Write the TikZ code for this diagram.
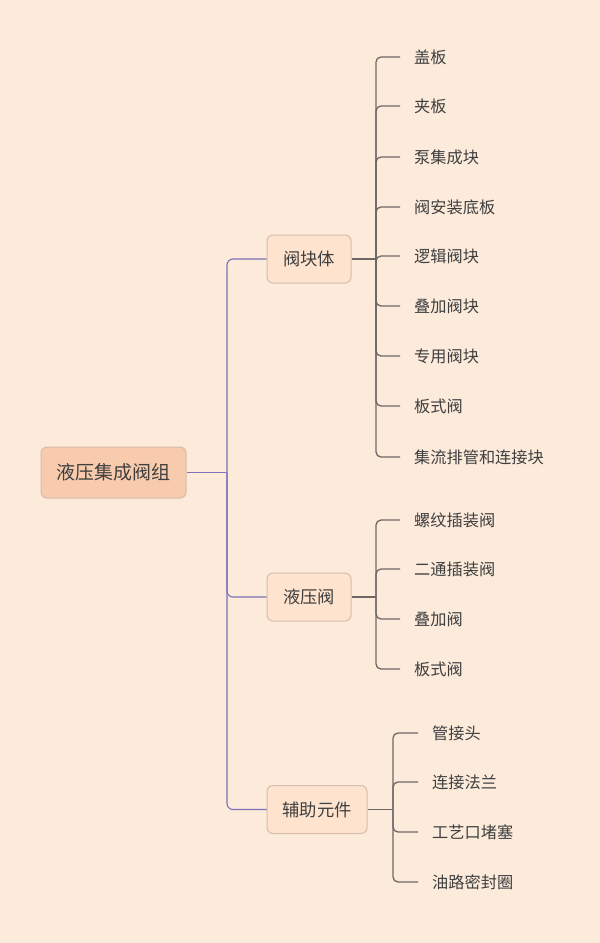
\documentclass[tikz,border=0pt]{standalone}
\usepackage{fontspec}
\setmainfont{Noto Sans CJK SC}
\definecolor{bg}{HTML}{FCEADB}
\definecolor{rootfill}{HTML}{F8CBAD}
\definecolor{childfill}{HTML}{FEE3CE}
\definecolor{boxline}{HTML}{D5BCAC}
\definecolor{purpleline}{HTML}{7F72B8}
\definecolor{grayline}{HTML}{6E6865}
\definecolor{txt}{HTML}{3F3F3F}
\begin{document}
\begin{tikzpicture}[x=1pt,y=-1pt,
  rootbox/.style={draw=boxline,line width=1pt,fill=rootfill,rounded corners=6pt,minimum width=145pt,minimum height=51pt,inner sep=0pt,text=txt,font=\fontsize{19}{21}\selectfont},
  childbox/.style={draw=boxline,line width=1pt,fill=childfill,rounded corners=6pt,minimum height=48pt,inner sep=0pt,text=txt,font=\fontsize{17.3}{19}\selectfont},
  leaf/.style={anchor=west,inner sep=0pt,text=txt,font=\fontsize{16.2}{18}\selectfont},
  trunk/.style={draw=purpleline,line width=1.1pt,rounded corners=6pt},
  stub/.style={draw=grayline,line width=1.3pt},
  branch/.style={draw=grayline,line width=1.3pt,rounded corners=5pt,shorten >=14pt}]
\fill[bg] (0,0) rectangle (600,943);
\useasboundingbox (0,0) rectangle (600,943);
\node[rootbox] (root) at (113.5,472.5) {液压集成阀组};
\node[childbox,minimum width=84pt] (c1) at (309,259) {阀块体};
\node[childbox,minimum width=84pt] (c2) at (309,597) {液压阀};
\node[childbox,minimum width=100pt] (c3) at (317,809.5) {辅助元件};
\coordinate (j0) at (227,472.5);
\draw[trunk] (root.east) -- (j0);
\foreach \c in {c1,c2,c3}
  \draw[trunk] (j0) |- (\c.west);
\coordinate (j1) at (376,259);
\coordinate (j2) at (376,597);
\coordinate (j3) at (393,809.5);
\draw[stub] (c1.east) -- (j1);
\draw[stub] (c2.east) -- (j2);
\draw[stub] (c3.east) -- (j3);
% leaves of c1
\foreach \n/\y/\t in {a1/57/盖板,a2/106/夹板,a3/157/泵集成块,a4/207/阀安装底板,a5/256/逻辑阀块,a6/306/叠加阀块,a7/356/专用阀块,a8/406/板式阀,a9/457/集流排管和连接块}{
  \node[leaf] (\n) at (414,\y) {\t};
  \draw[branch] (j1) |- (\n.west);
}
% leaves of c2
\foreach \n/\y/\t in {b1/520/螺纹插装阀,b2/569/二通插装阀,b3/619/叠加阀,b4/669/板式阀}{
  \node[leaf] (\n) at (414,\y) {\t};
  \draw[branch] (j2) |- (\n.west);
}
% leaves of c3
\foreach \n/\y/\t in {d1/733/管接头,d2/782/连接法兰,d3/832/工艺口堵塞,d4/882/油路密封圈}{
  \node[leaf] (\n) at (432,\y) {\t};
  \draw[branch] (j3) |- (\n.west);
}
\end{tikzpicture}
\end{document}
